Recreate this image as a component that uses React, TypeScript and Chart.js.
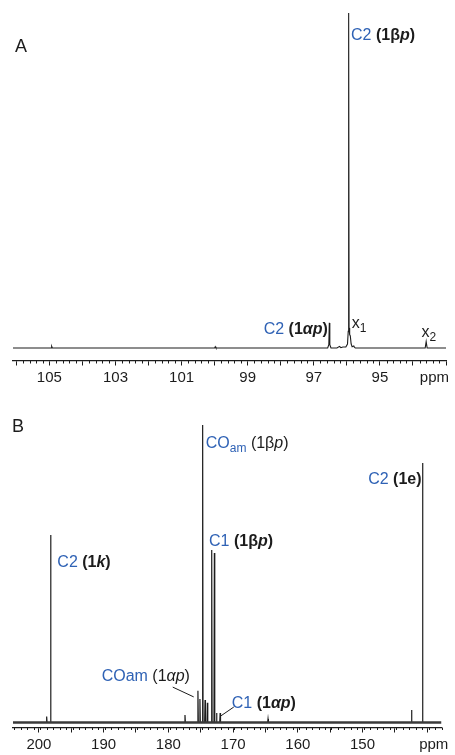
import React, { useEffect, useRef } from "react";
import { Chart, registerables } from "chart.js";
Chart.register(...registerables);

const BLUE = "#2f62b5";
const INK = "#1c1c1c";
const FONT = '"Liberation Sans", Arial, Helvetica, sans-serif';

// ---------- Panel A (ppm, relative intensity) ----------
const specA_ppm = [106.1, 104.95, 104.93, 104.91, 100.0, 99.98, 99.96, 96.58, 96.545, 96.53, 96.515, 96.48, 96.3, 96.22, 96.18, 96.12, 96.03, 95.98, 95.958, 95.945, 95.932, 95.915, 95.895, 95.87, 95.84, 95.79, 95.77, 95.74, 93.63, 93.6, 93.57, 93.0];
const specA_int = [0, 0, 0.005, 0, 0, 0.004, 0, 0, 0.01, 0.075, 0.01, 0, 0, 0.005, 0.001, 0.003, 0.003, 0.012, 0.05, 1.0, 0.06, 0.04, 0.036, 0.012, 0.004, 0.006, 0.002, 0, 0, 0.019, 0, 0];
const ticksA = [93, 94, 95, 96, 97, 98, 99, 100, 101, 102, 103, 104, 105, 106];
const tickLabelsA = [95, 97, 99, 101, 103, 105];

// ---------- Panel B ----------
const baseB_ppm = [204, 137.8];
const baseB_int = [0, 0];
const peaksB_ppm = [198.8, 198.19, 177.43, 175.43, 175.12, 174.7, 174.33, 173.97, 173.3, 172.89, 172.55, 172.0, 164.6, 142.43, 140.73];
const peaksB_int = [0.02, 0.63, 0.025, 0.107, 0.079, 1.0, 0.076, 0.066, 0.58, 0.57, 0.032, 0.032, 0.012, 0.042, 0.872];
const ticksB = [140, 145, 150, 155, 160, 165, 170, 175, 180, 185, 190, 195, 200];
const tickLabelsB = [150, 160, 170, 180, 190, 200];
const leaderB1_ppm = [179.32, 176.08];
const leaderB1_int = [0.119, 0.086];
const leaderB2_ppm = [171.9, 169.89];
const leaderB2_int = [0.022, 0.052];

type Part = [string, string];
interface Label { ppm: number; v: number; align?: "left" | "right"; parts: Part[] }

const labelsA: Label[] = [
  { ppm: 95.873, v: 0.919, parts: [["C2 ", "blue"], ["(1β", "bold"], ["p", "boldIt"], [")", "bold"]] },
  { ppm: 96.575, v: 0.042, align: "right", parts: [["C2 ", "blue"], ["(1", "bold"], ["αp", "boldIt"], [")", "bold"]] },
  { ppm: 95.85, v: 0.059, parts: [["x", "reg"], ["1", "sub"]] },
  { ppm: 93.744, v: 0.034, parts: [["x", "reg"], ["2", "sub"]] },
];
const labelsB: Label[] = [
  { ppm: 174.22, v: 0.922, parts: [["CO", "blue"], ["am", "blueSub"], [" (1β", "reg"], ["p", "it"], [")", "reg"]] },
  { ppm: 140.88, v: 0.803, align: "right", parts: [["C2 ", "blue"], ["(1e)", "bold"]] },
  { ppm: 197.15, v: 0.524, parts: [["C2 ", "blue"], ["(1", "bold"], ["k", "boldIt"], [")", "bold"]] },
  { ppm: 173.71, v: 0.592, parts: [["C1 ", "blue"], ["(1β", "bold"], ["p", "boldIt"], [")", "bold"]] },
  { ppm: 190.3, v: 0.138, parts: [["COam ", "blue"], ["(1", "reg"], ["αp", "it"], [")", "reg"]] },
  { ppm: 170.2, v: 0.048, parts: [["C1 ", "blue"], ["(1", "bold"], ["αp", "boldIt"], [")", "bold"]] },
];

const STY: Record<string, { color: string; bold?: boolean; italic?: boolean; sub?: boolean }> = {
  blue: { color: BLUE },
  blueSub: { color: BLUE, sub: true },
  reg: { color: INK },
  bold: { color: INK, bold: true },
  boldIt: { color: INK, bold: true, italic: true },
  it: { color: INK, italic: true },
  sub: { color: INK, sub: true },
};

const fontFor = (k: string) => {
  const s = STY[k];
  return `${s.italic ? "italic " : ""}${s.bold ? "bold " : ""}${s.sub ? 12 : 16}px ${FONT}`;
};

const pts = (xs: number[], ys: number[]) => xs.map((x, i) => ({ x, y: ys[i] }));
const spikes = (xs: number[], ys: number[]) => {
  const out: { x: number; y: number }[] = [];
  xs.forEach((p, i) => {
    out.push({ x: p + 0.06, y: 0 }, { x: p, y: ys[i] }, { x: p - 0.06, y: 0 });
  });
  return out;
};

interface PanelCfg {
  datasets: any[];
  min: number; max: number; ymin: number;
  padTop: number; padLeft: number; padRight: number; axisH: number;
  ticks: number[]; tickLabels: number[];
  minorStep: number; minorLen: number; majorLen: number; tickPad: number;
  ppmAt: number; labels: Label[];
  letter: string; letterX: number; letterY: number;
}

const TICK_SIZE = 15;

function annot(p: PanelCfg) {
  return {
    id: "annot",
    afterDraw(chart: any) {
      const { ctx } = chart;
      const xs = chart.scales.x;
      const ys = chart.scales.y;
      ctx.save();
      ctx.strokeStyle = INK;
      ctx.lineWidth = 1;
      ctx.beginPath();
      const n = Math.round((p.max - p.min) / p.minorStep);
      for (let i = 0; i <= n; i++) {
        const v = Math.round((p.min + i * p.minorStep) * 100) / 100;
        if (p.ticks.includes(v) || v < p.min || v > p.max) continue;
        const x = Math.round(xs.getPixelForValue(v)) + 0.5;
        ctx.moveTo(x, xs.top);
        ctx.lineTo(x, xs.top + p.minorLen);
      }
      ctx.stroke();
      ctx.font = `${TICK_SIZE}px ${FONT}`;
      ctx.fillStyle = INK;
      ctx.textAlign = "center";
      ctx.textBaseline = "middle";
      ctx.fillText("ppm", xs.getPixelForValue(p.ppmAt), xs.top + p.majorLen + p.tickPad + TICK_SIZE * 0.6);
      ctx.textAlign = "left";
      ctx.textBaseline = "alphabetic";
      ctx.font = `18px ${FONT}`;
      ctx.fillText(p.letter, p.letterX, p.letterY);
      for (const lab of p.labels) {
        const px = xs.getPixelForValue(lab.ppm);
        const py = ys.getPixelForValue(lab.v);
        let w = 0;
        for (const [t, k] of lab.parts) { ctx.font = fontFor(k); w += ctx.measureText(t).width; }
        let cx = lab.align === "right" ? px - w : px;
        for (const [t, k] of lab.parts) {
          ctx.font = fontFor(k);
          ctx.fillStyle = STY[k].color;
          ctx.fillText(t, cx, py + (STY[k].sub ? 4 : 0));
          cx += ctx.measureText(t).width;
        }
      }
      ctx.restore();
    },
  };
}

function buildConfig(p: PanelCfg): any {
  return {
    type: "line",
    data: { datasets: p.datasets },
    options: {
      animation: false,
      responsive: false,
      maintainAspectRatio: false,
      events: [],
      layout: { padding: { top: p.padTop, left: p.padLeft, right: p.padRight, bottom: 0 } },
      plugins: { legend: { display: false }, tooltip: { enabled: false }, title: { display: false } },
      scales: {
        x: {
          type: "linear",
          reverse: true,
          min: p.min,
          max: p.max,
          afterBuildTicks: (s: any) => { s.ticks = p.ticks.map((v) => ({ value: v })); },
          afterFit: (s: any) => { s.height = p.axisH; s.paddingLeft = 0; s.paddingRight = 0; },
          grid: { display: true, drawOnChartArea: false, drawTicks: true, tickLength: p.majorLen, tickColor: INK, tickWidth: 1 },
          border: { display: true, color: INK, width: 1.3 },
          ticks: {
            autoSkip: false,
            maxRotation: 0,
            padding: p.tickPad,
            color: INK,
            font: { family: FONT, size: TICK_SIZE },
            callback: (v: number) => (p.tickLabels.includes(v) ? String(v) : ""),
          },
        },
        y: { type: "linear", display: false, min: p.ymin, max: 1 },
      },
    },
    plugins: [annot(p)],
  };
}

const line = (data: any[], width: number, color = INK) => ({
  data, borderColor: color, borderWidth: width, pointRadius: 0, tension: 0, fill: false,
});

const panelA: PanelCfg = {
  datasets: [line(pts(specA_ppm, specA_int), 1.1)],
  min: 93, max: 106.1, ymin: -0.0388,
  padTop: 13, padLeft: 13, padRight: 9, axisH: 34,
  ticks: ticksA, tickLabels: tickLabelsA,
  minorStep: 0.2, minorLen: 2.5, majorLen: 4.5, tickPad: 3.5,
  ppmAt: 93.35, labels: labelsA,
  letter: "A", letterX: 15, letterY: 52,
};

const panelB: PanelCfg = {
  datasets: [
    line(pts(baseB_ppm, baseB_int), 2.6, "#3a3a3a"),
    line(spikes(peaksB_ppm, peaksB_int), 1.2),
    line(pts(leaderB1_ppm, leaderB1_int), 1),
    line(pts(leaderB2_ppm, leaderB2_int), 1),
  ],
  min: 137.8, max: 204, ymin: -0.0168,
  padTop: 30, padLeft: 13, padRight: 13.5, axisH: 27.5,
  ticks: ticksB, tickLabels: tickLabelsB,
  minorStep: 1, minorLen: 2.5, majorLen: 5, tickPad: 3.5,
  ppmAt: 139.0, labels: labelsB,
  letter: "B", letterX: 12, letterY: 37,
};

function Panel({ cfg, height }: { cfg: PanelCfg; height: number }) {
  const ref = useRef<HTMLCanvasElement>(null);
  useEffect(() => {
    if (!ref.current) return;
    const ch = new Chart(ref.current, buildConfig(cfg));
    return () => ch.destroy();
  }, [cfg]);
  return <canvas ref={ref} width={455} height={height} style={{ display: "block", width: 455, height }} />;
}

export default function App() {
  return (
    <div style={{ position: "absolute", left: 0, top: 0, width: 455, height: 755, background: "#fff", overflow: "hidden" }}>
      <Panel cfg={panelA} height={395} />
      <Panel cfg={panelB} height={360} />
    </div>
  );
}
